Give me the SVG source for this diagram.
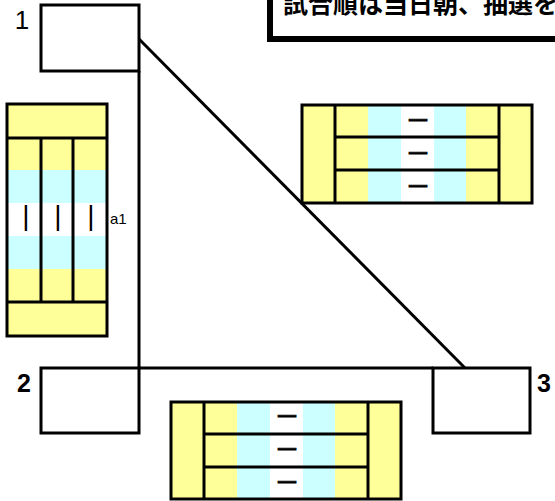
<svg xmlns="http://www.w3.org/2000/svg" width="555" height="501" viewBox="0 0 555 501">
<style>
.box{fill:#fff;stroke:#000;stroke-width:3}
.ln{stroke:#000;stroke-width:3;fill:none}
.frame{fill:none;stroke:#000;stroke-width:3}
.y{fill:#FFFF99}
.c{fill:#CCFFFF}
.w{fill:#FFFFFF}
.lbl{font-family:"Liberation Sans",Arial,sans-serif;font-weight:bold;font-size:25px;fill:#000}
.dash{font-family:"Liberation Sans",Arial,sans-serif;font-weight:bold;font-size:18px;fill:#000;stroke:#000;stroke-width:0.9;text-anchor:middle}
.bar{font-family:"Liberation Sans",Arial,sans-serif;font-size:28px;fill:#000;text-anchor:middle}
.title{font-family:"Liberation Sans","Noto Sans CJK JP",sans-serif;font-weight:bold;font-size:25px;fill:#000}
</style>

<g id="title">
<rect x="270" y="-20" width="320" height="59" fill="#fff" stroke="#000" stroke-width="6"/>
<text class="title" x="283" y="13">試合順は当日朝、抽選を</text>
</g>

<g id="connectors">
<line class="ln" x1="139" y1="71" x2="139" y2="368"/>
<line class="ln" x1="139" y1="368" x2="433" y2="368"/>
<line class="ln" x1="139" y1="39" x2="465" y2="368"/>
</g>

<g id="node-1">
<rect class="box" x="41" y="5" width="98" height="66"/>
<text x="22" y="29" font-family="Liberation Sans, Arial, sans-serif" font-size="26" text-anchor="middle">1</text>
</g>

<g id="node-2">
<rect class="box" x="41" y="368" width="98" height="65"/>
<text class="lbl" x="17" y="392">2</text>
</g>

<g id="node-3">
<rect class="box" x="433" y="368" width="97" height="65"/>
<text class="lbl" x="537" y="392">3</text>
</g>

<g id="table-left">
<rect class="y" x="7" y="104" width="100" height="66"/>
<rect class="c" x="7" y="170" width="100" height="33"/>
<rect class="w" x="7" y="203" width="100" height="33"/>
<rect class="c" x="7" y="236" width="100" height="33"/>
<rect class="y" x="7" y="269" width="100" height="67"/>
<rect class="frame" x="7" y="104" width="100" height="232"/>
<line class="ln" x1="7" y1="138" x2="107" y2="138"/>
<line class="ln" x1="7" y1="302" x2="107" y2="302"/>
<line class="ln" x1="41" y1="138" x2="41" y2="302"/>
<line class="ln" x1="73" y1="138" x2="73" y2="302"/>
<text class="bar" x="26" y="225">|</text>
<text class="bar" x="58" y="225">|</text>
<text class="bar" x="91" y="225">|</text>
<text x="110" y="224" font-family="Liberation Sans, Arial, sans-serif" font-size="15">a1</text>
</g>

<g id="table-right">
<rect class="y" x="302" y="105" width="66" height="98"/>
<rect class="c" x="368" y="105" width="33" height="98"/>
<rect class="w" x="401" y="105" width="33" height="98"/>
<rect class="c" x="434" y="105" width="32" height="98"/>
<rect class="y" x="466" y="105" width="66" height="98"/>
<rect class="frame" x="302" y="105" width="230" height="98"/>
<line class="ln" x1="335" y1="105" x2="335" y2="203"/>
<line class="ln" x1="499" y1="105" x2="499" y2="203"/>
<line class="ln" x1="335" y1="137" x2="499" y2="137"/>
<line class="ln" x1="335" y1="170" x2="499" y2="170"/>
<text class="dash" x="418" y="125">—</text>
<text class="dash" x="418" y="158">—</text>
<text class="dash" x="418" y="191">—</text>
</g>

<g id="table-bottom">
<rect class="y" x="171" y="402" width="66" height="98"/>
<rect class="c" x="237" y="402" width="33" height="98"/>
<rect class="w" x="270" y="402" width="33" height="98"/>
<rect class="c" x="303" y="402" width="32" height="98"/>
<rect class="y" x="335" y="402" width="66" height="98"/>
<rect class="frame" x="171" y="402" width="230" height="97"/>
<line class="ln" x1="204" y1="402" x2="204" y2="500"/>
<line class="ln" x1="368" y1="402" x2="368" y2="500"/>
<line class="ln" x1="204" y1="434" x2="369" y2="434"/>
<line class="ln" x1="204" y1="467" x2="369" y2="467"/>
<text class="dash" x="287" y="421">—</text>
<text class="dash" x="287" y="454">—</text>
<text class="dash" x="287" y="487">—</text>
</g>
</svg>
